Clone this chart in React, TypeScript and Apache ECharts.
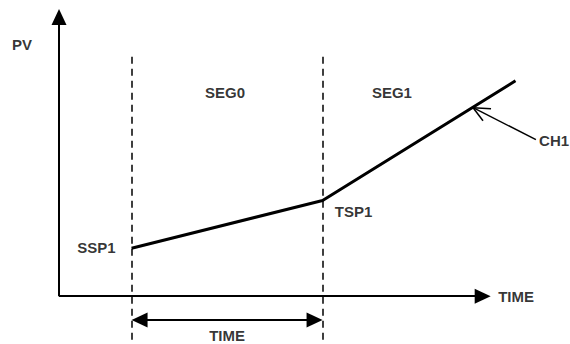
import React, { useEffect, useRef } from "react";
import * as echarts from "echarts";

// Ramp profile (time units, PV units)
const profileTime = [3.8, 13.8, 23.9];
const profilePV = [2, 4, 9];

// Segment boundaries (dashed verticals)
const segmentBounds = [3.8, 13.8];
const dashTop = 10;
const dashBottom = -2;

// Axis extents (arrow tips)
const timeAxisEnd = 22.6;
const pvAxisEnd = 12;

// TIME span arrow level
const spanLevel = -1;

// CH1 pointer: from label to the curve
const pointerFrom = [24.97, 6.54];
const pointerTo = [21.68, 7.875];
const pointerHeadA = [22.62, 7.83];
const pointerHeadB = [22.2, 7.33];

// Text labels
const labelNames = ["PV", "SEG0", "SEG1", "SSP1", "TSP1", "CH1", "TIME", "TIME"];
const labelTime = [-1.94, 8.69, 17.43, 1.96, 15.42, 25.92, 23.93, 8.8];
const labelPV = [10.52, 8.52, 8.5, 2.04, 3.52, 6.52, 0, -1.66];

const FONT = "'Liberation Sans', Arial, sans-serif";

// scale of the drawing (px per unit), used to keep arrow tips on their targets
const PX_PER_T = 19.1;
const PX_PER_PV = 24;
const ARROW_LEN = 16;

export default function App() {
  const ref = useRef<HTMLDivElement>(null);
  useEffect(() => {
    if (!ref.current) return;
    const chart = echarts.init(ref.current, undefined, { renderer: "svg" });
    const black = "#000";
    const tInset = ARROW_LEN / 2 / PX_PER_T;
    const vInset = ARROW_LEN / 2 / PX_PER_PV;
    const holder = (name: string, lineStyle: any, symbol: any, symbolSize: any, data: any[]) => ({
      type: "line",
      name,
      data: [],
      silent: true,
      markLine: {
        silent: true,
        animation: false,
        symbol,
        symbolSize,
        label: { show: false },
        emphasis: { disabled: true },
        lineStyle,
        data,
      },
    });
    chart.setOption({
      animation: false,
      backgroundColor: "#fff",
      grid: { left: 1.7, right: 14.4, top: 9, bottom: -1, containLabel: false },
      xAxis: { type: "value", min: -3, max: 26, show: false },
      yAxis: { type: "value", min: -2, max: 12, show: false },
      series: [
        holder(
          "axes",
          { color: black, width: 2, type: "solid" },
          ["none", "triangle"],
          [15, ARROW_LEN],
          [
            [{ coord: [0, 0] }, { coord: [timeAxisEnd - tInset, 0] }],
            [{ coord: [0, 0] }, { coord: [0, pvAxisEnd - vInset] }],
          ]
        ),
        holder(
          "bounds",
          { color: black, width: 1.5, type: [7, 5] },
          ["none", "none"],
          0,
          segmentBounds.map((t) => [{ coord: [t, dashTop] }, { coord: [t, dashBottom] }])
        ),
        holder(
          "span",
          { color: black, width: 2, type: "solid" },
          ["triangle", "triangle"],
          [15, ARROW_LEN],
          [[
            { coord: [segmentBounds[0] + tInset, spanLevel] },
            { coord: [segmentBounds[1] - tInset, spanLevel] },
          ]]
        ),
        holder(
          "pointer",
          { color: black, width: 1.5, type: "solid" },
          ["none", "none"],
          0,
          [
            [{ coord: pointerFrom }, { coord: pointerTo }],
            [{ coord: pointerTo }, { coord: pointerHeadA }],
            [{ coord: pointerTo }, { coord: pointerHeadB }],
          ]
        ),
        {
          type: "line",
          name: "profile",
          data: profileTime.map((t, i) => [t, profilePV[i]]),
          symbol: "none",
          lineStyle: { color: black, width: 3 },
          silent: true,
          z: 5,
        },
        {
          type: "scatter",
          name: "labels",
          symbolSize: 0,
          clip: false,
          silent: true,
          data: labelNames.map((n, i) => ({ value: [labelTime[i], labelPV[i]], name: n })),
          label: {
            show: true,
            position: "inside",
            formatter: (p: any) => p.name,
            color: black,
            fontFamily: FONT,
            fontWeight: "bold",
            fontSize: 15,
          },
        },
      ],
    });
    return () => chart.dispose();
  }, []);
  return (
    <div
      ref={ref}
      style={{ position: "fixed", left: 0, top: 0, width: 570, height: 344 }}
    />
  );
}
